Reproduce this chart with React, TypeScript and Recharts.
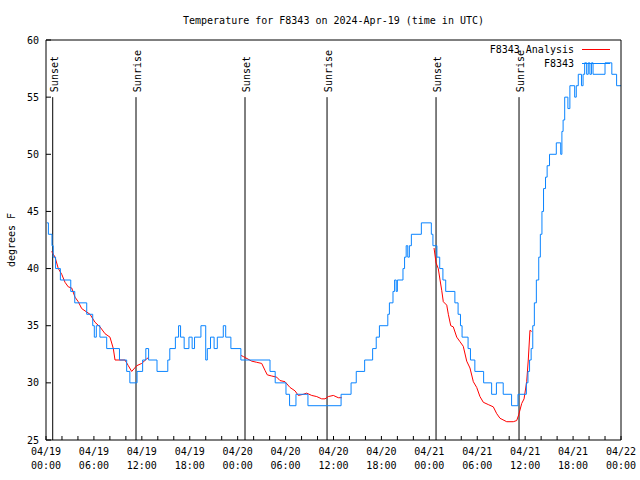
import { Line, LineChart, ReferenceLine, XAxis, YAxis } from "recharts";

// hours since 04/19 00:00 UTC, station observations (value changes)
const obsHours = [
  0.1, 0.3, 0.75, 0.9, 1.2, 1.8, 3.1, 3.6, 5.1, 5.85, 6.05, 6.3, 6.75, 7.6, 9.2, 10.1, 10.5, 11.4, 12.1,
  12.5, 12.85, 13.9, 15.25, 15.5, 16.2, 16.6, 16.85, 17.3, 17.9, 18.3, 18.6, 19.4, 20.0, 20.2, 20.6,
  21.05, 21.45, 22.2, 22.5, 23.15, 24.4, 28.05, 28.7, 30.05, 30.5, 31.3, 32.8, 36.95, 38.2, 38.85,
  39.9, 40.9, 41.35, 41.75, 42.8, 43.0, 43.45, 43.65, 43.85, 44.0, 44.7, 44.9, 45.1, 45.3, 45.5, 45.75,
  47.0, 48.25, 48.45, 48.95, 49.3, 49.7, 50.05, 51.2, 51.6, 51.9, 52.1, 52.85, 53.15, 53.7, 54.8, 55.8,
  56.4, 57.25, 58.3, 59.1, 60.15, 60.35, 60.55, 60.75, 60.95, 61.15, 61.4, 61.7, 61.9, 62.1, 62.3,
  62.55, 62.75, 63.05, 63.9, 64.45, 64.6, 64.75, 64.95, 65.35, 65.6, 66.2, 66.4, 66.65, 67.05, 67.25,
  67.45, 67.7, 67.9, 68.1, 68.3, 68.5, 70.0, 70.85, 71.45, 72,
];
const obsTemps = [
  44, 43, 42, 41, 40, 39, 38, 37, 36, 35, 34, 35, 34, 33, 32, 31, 30, 31, 32,
  33, 32, 31, 32, 33, 34, 35, 34, 33, 34, 33, 34, 35, 32, 33, 34,
  33, 34, 35, 34, 33, 32, 31, 30, 29, 28, 29, 28, 29, 30, 31,
  32, 33, 34, 35, 36, 37, 38, 39, 38, 39, 40, 41, 42, 41, 42, 43,
  44, 43, 42, 41, 40, 39, 38, 37, 36, 35, 34, 33, 32, 31, 30, 29,
  30, 29, 28, 29, 30, 31, 32, 33, 35, 37, 39, 41, 43, 45, 47,
  48, 49, 50, 51, 50, 52, 53, 55, 54, 56, 55, 56, 57, 56, 57,
  58, 57, 58, 57, 58, 57, 58, 57, 56, 56,
];

// analysis, null marks the gaps between runs
const anaHours = [
  0.71, 1.13, 1.54, 1.97, 2.38, 2.79, 3.22, 3.63, 4.04, 4.47, 4.88, 5.51, 6.14, 6.76, 7.39, 8.01, 8.43,
  8.64, 9.89, 10.31, 10.73, 11.36, 11.98, 12.61, 12.81, 18,
  24.42, 24.71, 25.76, 26.38, 27.01, 27.42, 27.71, 28.26, 28.89, 29.3, 29.93, 30.55, 31.18, 31.59,
  32.22, 32.64, 33.27, 33.9, 34.52, 34.94, 35.35, 35.98, 36.6, 37.03, 42,
  48.59, 48.84, 49.12, 49.34, 49.55, 49.75, 50.18, 50.38, 50.68, 51.0, 51.43, 51.84, 52.25, 52.68,
  53.09, 53.51, 53.93, 54.34, 54.76, 55.38, 56.01, 56.44, 56.85, 57.69, 58.51, 58.94, 59.19, 59.57,
  59.86, 60.19, 60.39, 60.6, 60.82,
];
const anaTemps = [
  41.5, 41, 40, 39.5, 38.8, 38.4, 38.3, 37.5, 37.1, 36.5, 36.3, 36, 35.3, 34.9, 34.3, 34, 33,
  32, 32, 31.5, 31, 31.5, 31.7, 32.1, 32.2, null,
  32.4, 32.3, 31.9, 31.8, 31.7, 31.1, 30.7, 30.6, 30.5, 30.2, 30.1, 29.6, 29.3, 28.9,
  29.0, 29.1, 28.9, 28.8, 28.6, 28.6, 28.8, 28.9, 28.7, 28.7, null,
  41.8, 40.5, 40, 39, 38.1, 37.1, 36.8, 36, 35, 34.9, 34, 33.6, 33.2, 31.9,
  31.3, 30.1, 29.6, 28.8, 28.3, 28.1, 27.9, 27.3, 26.9, 26.6, 26.6, 26.7, 27.2, 28.2,
  28.6, 30.1, 32, 34.6, 34.5,
];

const sunHours = [0.84, 11.27, 24.92, 35.19, 48.84, 59.23];
const sunNames = ["Sunset", "Sunrise", "Sunset", "Sunrise", "Sunset", "Sunrise"];

const xTicks = [0, 2, 4, 6, 8, 10, 12, 14, 16, 18, 20, 22, 24, 26, 28, 30, 32, 34, 36, 38, 40, 42, 44, 46, 48, 50, 52, 54, 56, 58, 60, 62, 64, 66, 68, 70, 72];
const labelHours = [0, 6, 12, 18, 24, 30, 36, 42, 48, 54, 60, 66, 72];
const labelDays = ["04/19", "04/19", "04/19", "04/19", "04/20", "04/20", "04/20", "04/20", "04/21", "04/21", "04/21", "04/21", "04/22"];
const labelClock = ["00:00", "06:00", "12:00", "18:00", "00:00", "06:00", "12:00", "18:00", "00:00", "06:00", "12:00", "18:00", "00:00"];
const yTicks = [25, 30, 35, 40, 45, 50, 55, 60];

const obs = obsHours.map((h, i) => ({ h, temp: obsTemps[i] }));
const ana = anaHours.map((h, i) => ({ h, temp: anaTemps[i] }));

const FONT = "'DejaVu Sans Mono', monospace";
const BLUE = "#0a84ff";
const RED = "#ff0000";

function TimeTick({ x, y, payload }: any) {
  const i = labelHours.indexOf(payload.value);
  if (i < 0) return <g />;
  return (
    <g fontFamily={FONT} fontSize={10} fill="#000">
      <text x={x} y={y + 15} textAnchor="middle">{labelDays[i]}</text>
      <text x={x} y={y + 29} textAnchor="middle">{labelClock[i]}</text>
    </g>
  );
}

function SunLabel(name: string) {
  return ({ viewBox }: any) => {
    const x = viewBox.x + 5;
    const y = viewBox.y - 5;
    return (
      <text x={x} y={y} transform={`rotate(-90 ${x} ${y})`} fontFamily={FONT} fontSize={10} fill="#000">
        {name}
      </text>
    );
  };
}

export default function App() {
  return (
    <div style={{ position: "absolute", left: 0, top: 0, width: 640, height: 480, background: "#fff" }}>
      <LineChart width={640} height={480} margin={{ top: 0, right: 0, bottom: 0, left: 0 }}>
        <XAxis
          dataKey="h"
          type="number"
          domain={[0, 72]}
          ticks={xTicks}
          interval={0}
          height={40}
          tickSize={-4}
          tickMargin={4}
          tick={<TimeTick />}
          axisLine={{ stroke: "#000" }}
          tickLine={{ stroke: "#000" }}
        />
        <XAxis
          xAxisId="top"
          orientation="top"
          type="number"
          domain={[0, 72]}
          ticks={xTicks}
          interval={0}
          height={40}
          tickSize={-4}
          tickFormatter={() => ""}
          axisLine={{ stroke: "#000" }}
          tickLine={{ stroke: "#000" }}
        />
        <YAxis
          type="number"
          domain={[25, 60]}
          ticks={yTicks}
          interval={0}
          width={46}
          tickSize={-5}
          tickMargin={12}
          tick={{ fill: "#000", fontSize: 10, fontFamily: FONT }}
          axisLine={{ stroke: "#000" }}
          tickLine={{ stroke: "#000" }}
          label={({ viewBox }: any) => {
            const x = viewBox.x + 15;
            const y = viewBox.y + viewBox.height / 2;
            return (
              <text x={x} y={y} transform={`rotate(-90 ${x} ${y})`} textAnchor="middle" fontFamily={FONT} fontSize={10} fill="#000">
                degrees F
              </text>
            );
          }}
        />
        <YAxis
          yAxisId="right"
          orientation="right"
          type="number"
          domain={[25, 60]}
          ticks={yTicks}
          interval={0}
          width={19}
          tickSize={-5}
          tickFormatter={() => ""}
          axisLine={{ stroke: "#000" }}
          tickLine={{ stroke: "#000" }}
        />
        {sunHours.map((h, i) => (
          <ReferenceLine
            key={i}
            segment={[{ x: h, y: 25 }, { x: h, y: 55 }]}
            stroke="#000"
            strokeWidth={1}
            label={SunLabel(sunNames[i])}
          />
        ))}
        <Line
          data={ana}
          dataKey="temp"
          name="F8343 Analysis"
          type="linear"
          stroke={RED}
          strokeWidth={1}
          dot={false}
          connectNulls={false}
          isAnimationActive={false}
        />
        <Line
          data={obs}
          dataKey="temp"
          name="F8343"
          type="stepAfter"
          stroke={BLUE}
          strokeWidth={1}
          dot={false}
          isAnimationActive={false}
        />
      </LineChart>
      <svg width={640} height={80} style={{ position: "absolute", left: 0, top: 0, pointerEvents: "none" }}>
        <g fontFamily={FONT} fontSize={10} fill="#000">
          <text x={333.5} y={24} textAnchor="middle">Temperature for F8343 on 2024-Apr-19 (time in UTC)</text>
          <text x={574} y={53} textAnchor="end">F8343 Analysis</text>
          <text x={574} y={67} textAnchor="end">F8343</text>
        </g>
        <line x1={582} x2={610} y1={49.5} y2={49.5} stroke={RED} />
        <line x1={582} x2={610} y1={63.5} y2={63.5} stroke={BLUE} />
      </svg>
    </div>
  );
}
